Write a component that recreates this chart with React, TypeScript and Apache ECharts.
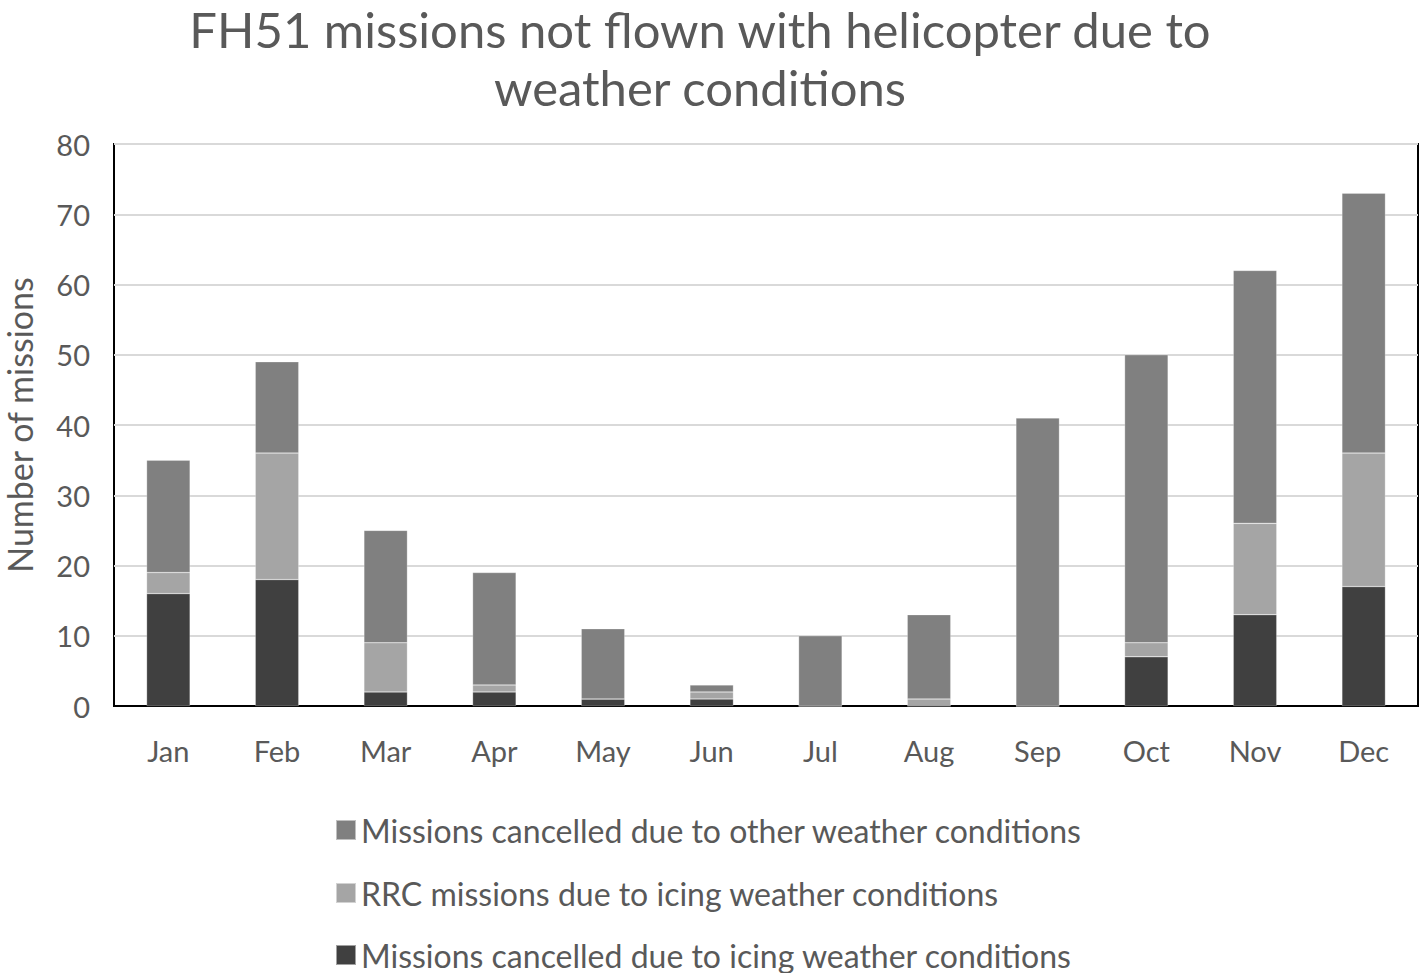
import React, { useEffect, useRef } from "react";
import * as echarts from "echarts";

const categories = ["Jan", "Feb", "Mar", "Apr", "May", "Jun", "Jul", "Aug", "Sep", "Oct", "Nov", "Dec"];
const icingCancelled = [16, 18, 2, 2, 1, 1, 0, 0, 0, 7, 13, 17];
const rrcIcing = [3, 18, 7, 1, 0, 1, 0, 1, 0, 2, 13, 19];
const otherWeather = [16, 13, 16, 16, 10, 1, 10, 12, 41, 41, 36, 37];
const yTicks = [0, 10, 20, 30, 40, 50, 60, 70, 80];
const seriesNames = [
  "Missions cancelled due to other weather conditions",
  "RRC missions due to icing weather conditions",
  "Missions cancelled due to icing weather conditions",
];

const FONT = "Lato, 'Open Sans', sans-serif";
const TXT = "#595959";

export default function App() {
  const ref = useRef<HTMLDivElement>(null);
  useEffect(() => {
    const chart = echarts.init(ref.current!, null, { renderer: "svg" });
    const bar = (name: string, data: number[], color: string) => ({
      name,
      type: "bar",
      stack: "total",
      data,
      barWidth: "40%",
      itemStyle: { color, borderColor: "rgba(255,255,255,0.5)", borderWidth: 0.5 },
    });
    const legendTops = [809, 872, 934];
    chart.setOption({
      animation: false,
      textStyle: { fontFamily: FONT },
      title: {
        text: "FH51 missions not flown with helicopter due to\nweather conditions",
        left: 700,
        textAlign: "center",
        top: 0,
        padding: 0,
        textStyle: { fontFamily: FONT, fontSize: 49, fontWeight: "normal", color: TXT, lineHeight: 58 },
      },
      legend: seriesNames.map((n, i) => ({
        orient: "vertical",
        left: 330,
        top: legendTops[i],
        itemWidth: 20,
        itemHeight: 20,
        icon: "rect",
        data: [n],
        textStyle: { fontFamily: FONT, fontSize: 32, color: TXT },
      })),
      grid: {
        left: 114,
        right: 1,
        top: 144,
        height: 562,
        show: true,
        borderColor: "#000",
        borderWidth: 2,
        containLabel: false,
        outerBoundsMode: "none",
      },
      xAxis: {
        type: "category",
        data: categories,
        axisTick: { show: false },
        axisLine: { show: true, lineStyle: { color: "#000", width: 2 } },
        axisLabel: { fontFamily: FONT, fontSize: 29, color: TXT, margin: 30 },
      },
      yAxis: {
        type: "value",
        min: yTicks[0],
        max: yTicks[yTicks.length - 1],
        interval: 10,
        name: "Number of missions",
        nameLocation: "middle",
        nameGap: 78,
        nameTextStyle: { fontFamily: FONT, fontSize: 34, color: TXT },
        axisLine: { show: false },
        axisTick: { show: false },
        axisLabel: { fontFamily: FONT, fontSize: 29, color: TXT, margin: 24 },
        splitLine: { lineStyle: { color: "#d9d9d9", width: 2 } },
      },
      series: [
        bar(seriesNames[2], icingCancelled, "#404040"),
        bar(seriesNames[1], rrcIcing, "#a5a5a5"),
        bar(seriesNames[0], otherWeather, "#808080"),
      ],
    });
    return () => chart.dispose();
  }, []);
  return <div ref={ref} style={{ width: 1419, height: 973, position: "absolute", left: 0, top: 0 }} />;
}
